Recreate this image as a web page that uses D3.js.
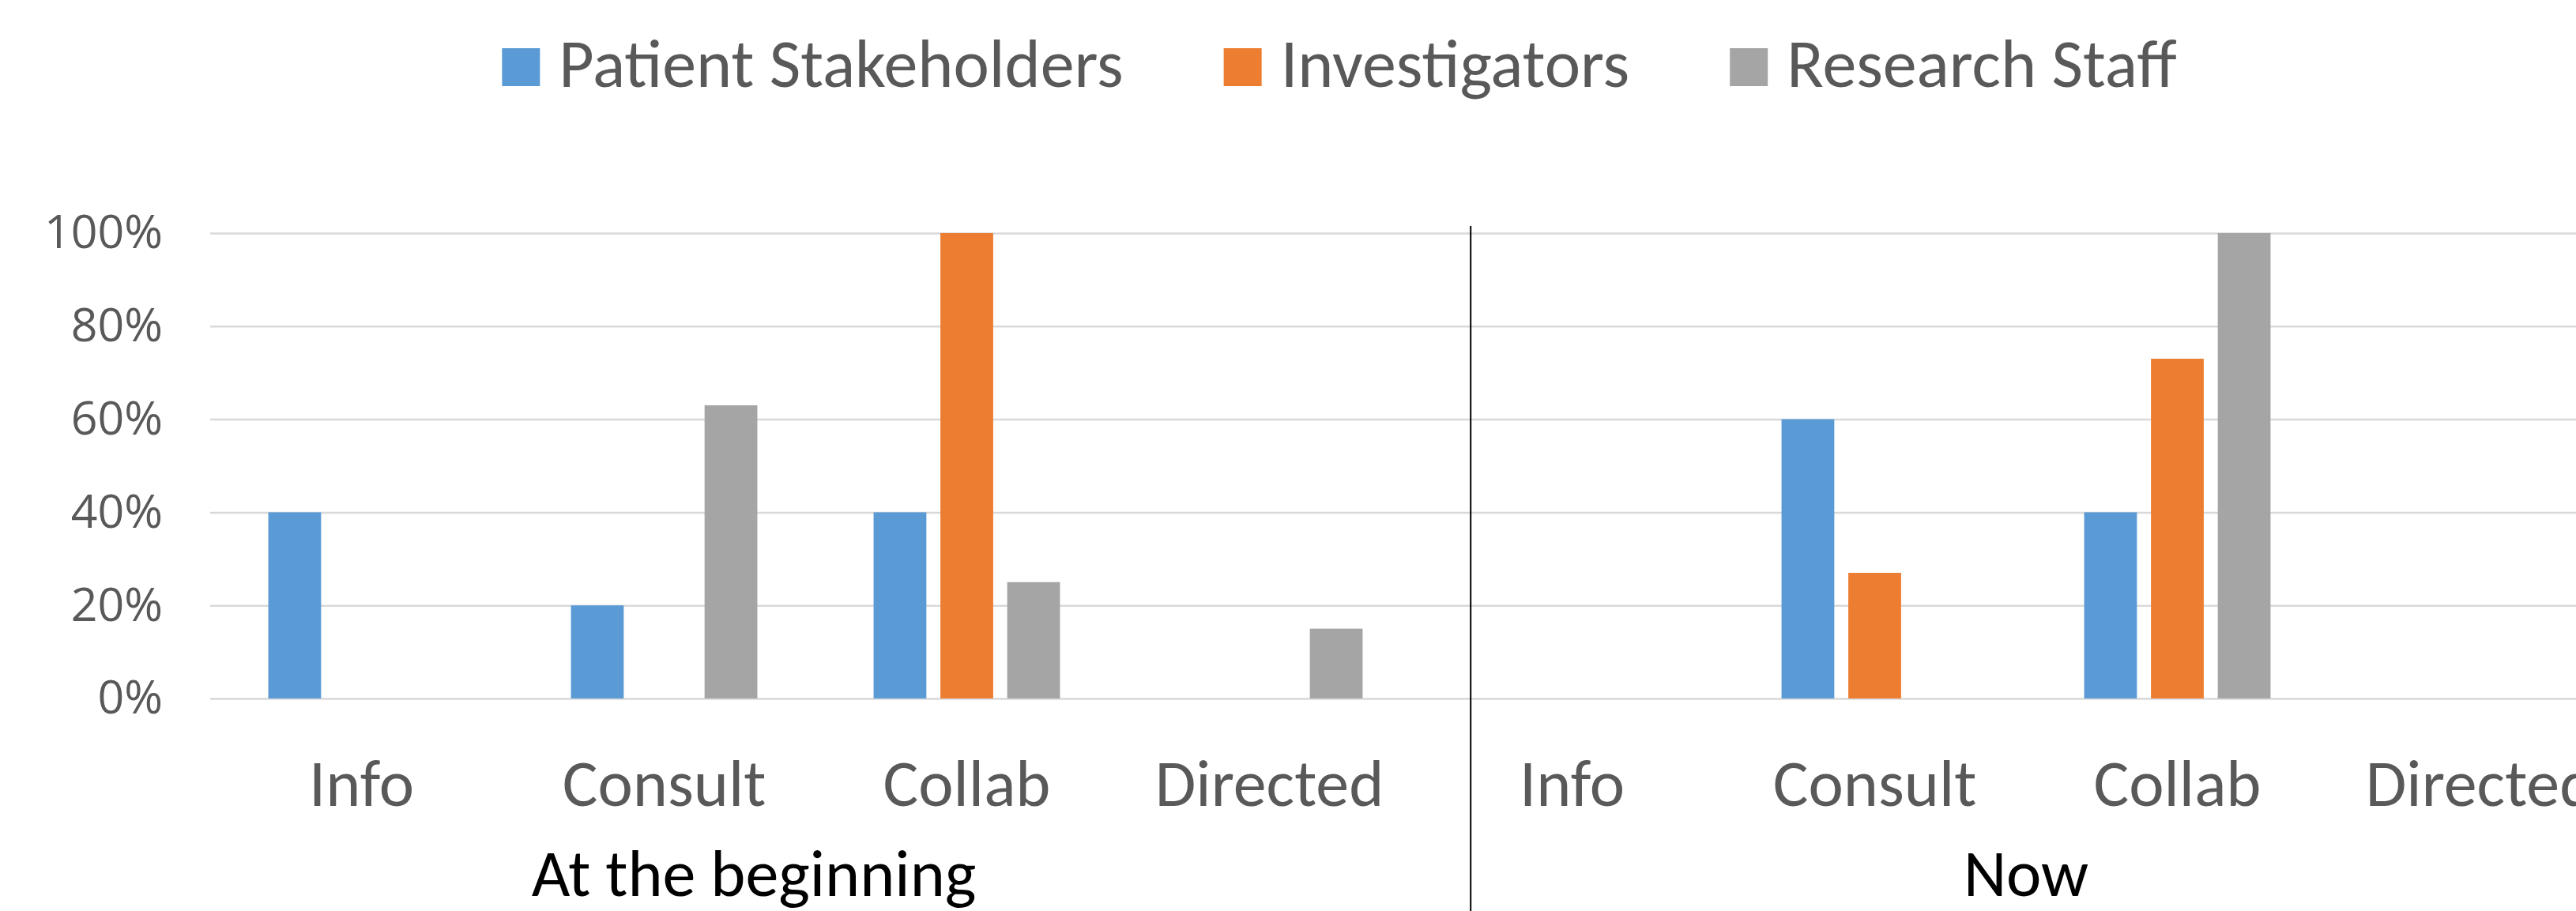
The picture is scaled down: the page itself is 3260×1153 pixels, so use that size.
<!DOCTYPE html>
<meta charset="utf-8">
<style>
    body { margin: 0; background: #fff; }
    .grid line { stroke: #d9d9d9; stroke-width: 2.5; }
    .yAxis text { fill: #595959; font-family: "Open Sans", sans-serif; font-size: 59px; }
    .lab { font-family: Carlito, "Liberation Sans Narrow", Lato, "Open Sans", sans-serif; }
</style>
<svg width="3260" height="1153"></svg>
<script src="https://d3js.org/d3.v7.min.js"></script>
<script>

    // chart data
    var categories = ["Info", "Consult", "Collab", "Directed"],
        groups = ["At the beginning", "Now"],
        series = ["Patient Stakeholders", "Investigators", "Research Staff"],
        colors = ["#5b9bd5", "#ed7d31", "#a5a5a5"];

    // values per category, first the 4 "At the beginning", then the 4 "Now"
    var patientStakeholders = [40, 20, 40, 0, 0, 60, 40, 0],
        investigators = [0, 0, 100, 0, 0, 27, 73, 0],
        researchStaff = [0, 63, 25, 15, 0, 0, 100, 0];

    var yTicks = [0, 20, 40, 60, 80, 100];

    var values = [patientStakeholders, investigators, researchStaff];

    var svg = d3.select("svg"),
        left = 266,
        step = 383,
        nCats = groups.length * categories.length;

    // the plot runs past the right edge of the picture, like the original
    var x = d3.scaleBand()
        .domain(d3.range(nCats))
        .range([left, left + nCats * step]);

    var xs = d3.scaleBand()
        .domain(series)
        .range([0, x.bandwidth()])
        .paddingInner(0.21)
        .paddingOuter(0.87);

    var y = d3.scaleLinear()
        .domain([0, 100])
        .range([884, 295]);

    // gridlines + y labels
    var yAxis = svg.append("g")
        .attr("class", "yAxis grid")
        .attr("transform", "translate(" + left + ",0)")
        .call(d3.axisLeft(y)
            .tickValues(yTicks)
            .tickSize(-(3260 - left))
            .tickPadding(60)
            .tickFormat(function (d) { return d + "%"; }));
    yAxis.select(".domain").remove();

    // bars
    series.forEach(function (s, si) {
        svg.append("g")
            .attr("fill", colors[si])
            .selectAll("rect")
            .data(values[si])
            .join("rect")
            .attr("x", function (d, i) { return x(i) + xs(s); })
            .attr("y", function (d) { return y(d); })
            .attr("width", xs.bandwidth())
            .attr("height", function (d) { return y(0) - y(d); });
    });

    // category labels
    svg.append("g")
        .selectAll("text")
        .data(d3.range(nCats))
        .join("text")
        .attr("class", "lab")
        .attr("x", function (i) { return x(i) + x.bandwidth() / 2; })
        .attr("y", 1020)
        .attr("text-anchor", "middle")
        .attr("fill", "#595959")
        .attr("font-size", 84)
        .text(function (i) { return categories[i % categories.length]; });

    // group labels
    var groupShift = [-78, 0];
    svg.append("g")
        .selectAll("text")
        .data(groups)
        .join("text")
        .attr("class", "lab")
        .attr("x", function (d, gi) {
            return x(gi * categories.length) + step * categories.length / 2 + groupShift[gi];
        })
        .attr("y", 1134)
        .attr("text-anchor", "middle")
        .attr("fill", "#000")
        .attr("font-size", 84)
        .text(function (d) { return d; });

    // separator between the two groups
    var sepX = x(categories.length) + step * 0.165;
    svg.append("line")
        .attr("x1", sepX).attr("x2", sepX)
        .attr("y1", y(100) - 9).attr("y2", 1153)
        .attr("stroke", "#000")
        .attr("stroke-width", 2);

    // legend
    var legend = svg.append("g"),
        lx = 0;
    series.forEach(function (s, si) {
        var item = legend.append("g").attr("transform", "translate(" + lx + ",0)");
        item.append("rect")
            .attr("x", 0).attr("y", 61)
            .attr("width", 48).attr("height", 48)
            .attr("fill", colors[si]);
        var t = item.append("text")
            .attr("class", "lab")
            .attr("x", 72)
            .attr("y", 110)
            .attr("fill", "#595959")
            .attr("font-size", 86)
            .text(s);
        lx += 72 + t.node().getComputedTextLength() + 127;
    });
    var legendWidth = lx - 127;
    legend.attr("transform", "translate(" + (1695 - legendWidth / 2) + ",0)");

</script>
